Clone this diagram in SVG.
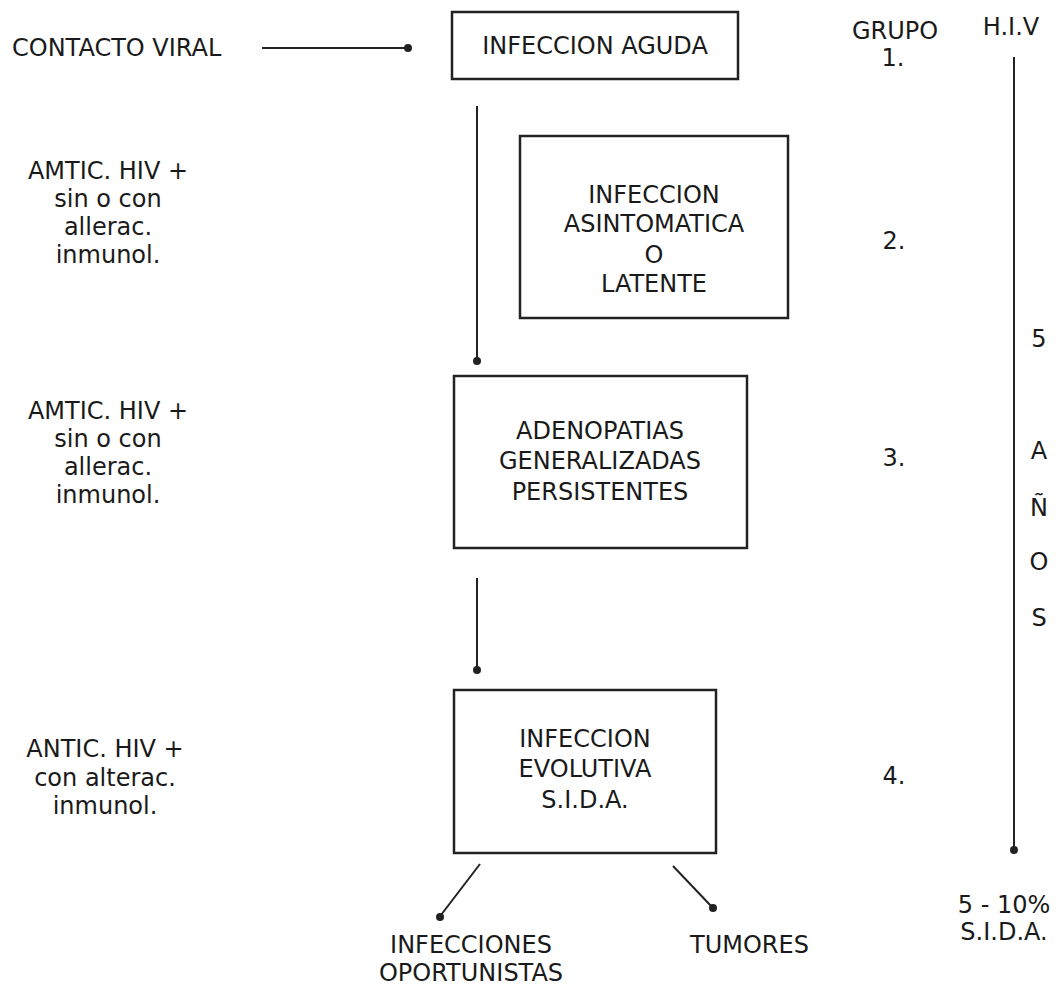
<svg xmlns="http://www.w3.org/2000/svg" width="1061" height="988" viewBox="0 0 1061 988">
<style>
text{font-family:"DejaVu Sans","Liberation Sans",sans-serif;font-size:24px;fill:#1a1a1a}
.c{text-anchor:middle}
.box{fill:#fff;stroke:#222;stroke-width:2.5}
.ln{stroke:#222;stroke-width:2;fill:none}
.dot{fill:#222}
</style>
<rect width="1061" height="988" fill="#fff"/>
<g id="connectors">
<line class="ln" x1="262" y1="48" x2="407" y2="48"/><circle class="dot" cx="408" cy="48" r="4"/>
<line class="ln" x1="477" y1="106" x2="477" y2="360"/><circle class="dot" cx="477" cy="361" r="4"/>
<line class="ln" x1="477" y1="578" x2="477" y2="669"/><circle class="dot" cx="477" cy="670" r="4"/>
<line class="ln" x1="480" y1="864" x2="441" y2="915"/><circle class="dot" cx="440" cy="917" r="4"/>
<line class="ln" x1="673" y1="866" x2="712" y2="907"/><circle class="dot" cx="713" cy="908" r="4"/>
<line class="ln" x1="1014" y1="57" x2="1014" y2="849"/><circle class="dot" cx="1014" cy="850" r="4"/>
</g>
<g id="contacto"><text x="12" y="56">CONTACTO VIRAL</text></g>
<g id="aguda"><rect class="box" x="452" y="12" width="286" height="67"/><text class="c" x="595" y="54">INFECCION AGUDA</text></g>
<g id="asintomatica"><rect class="box" x="520" y="136" width="268" height="182"/>
<text class="c" x="654" y="203">INFECCION</text><text class="c" x="654" y="232">ASINTOMATICA</text><text class="c" x="654" y="263">O</text><text class="c" x="654" y="292">LATENTE</text></g>
<g id="adenopatias"><rect class="box" x="454" y="376" width="293" height="172"/>
<text class="c" x="600" y="439">ADENOPATIAS</text><text class="c" x="600" y="469">GENERALIZADAS</text><text class="c" x="600" y="500">PERSISTENTES</text></g>
<g id="evolutiva"><rect class="box" x="454" y="690" width="262" height="163"/>
<text class="c" x="585" y="747">INFECCION</text><text class="c" x="585" y="777">EVOLUTIVA</text><text class="c" x="585" y="808">S.I.D.A.</text></g>
<g id="left1"><text class="c" x="108" y="179">AMTIC. HIV +</text><text class="c" x="108" y="207">sin o con</text><text class="c" x="108" y="235">allerac.</text><text class="c" x="108" y="263">inmunol.</text></g>
<g id="left2"><text class="c" x="108" y="419">AMTIC. HIV +</text><text class="c" x="108" y="447">sin o con</text><text class="c" x="108" y="475">allerac.</text><text class="c" x="108" y="503">inmunol.</text></g>
<g id="left3"><text class="c" x="105" y="757">ANTIC. HIV +</text><text class="c" x="105" y="786">con alterac.</text><text class="c" x="105" y="814">inmunol.</text></g>
<g id="grupos"><text class="c" x="895" y="39">GRUPO</text><text class="c" x="893" y="66">1.</text>
<text class="c" x="894" y="249">2.</text><text class="c" x="894" y="466">3.</text><text class="c" x="894" y="784">4.</text></g>
<g id="hiv"><text class="c" x="1011" y="35">H.I.V</text>
<text class="c" x="1039" y="347">5</text><text class="c" x="1039" y="459">A</text><text class="c" x="1039" y="516">Ñ</text><text class="c" x="1039" y="570">O</text><text class="c" x="1039" y="626">S</text>
<text class="c" x="1004" y="913">5 - 10%</text><text class="c" x="1004" y="940">S.I.D.A.</text></g>
<g id="oportunistas"><text class="c" x="471" y="953">INFECCIONES</text><text class="c" x="471" y="981">OPORTUNISTAS</text></g>
<g id="tumores"><text x="690" y="953">TUMORES</text></g>
</svg>
